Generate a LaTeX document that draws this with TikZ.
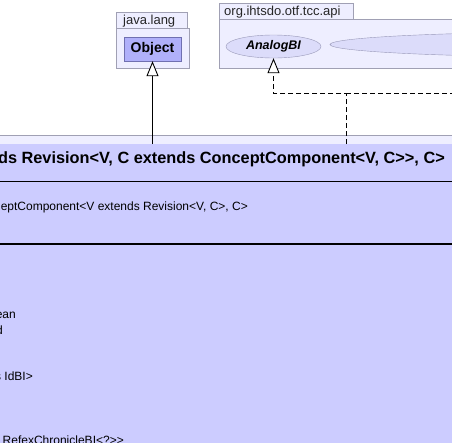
\documentclass[tikz,border=0pt]{standalone}
\usepackage{fontspec}
\setmainfont{Liberation Sans}
\usepackage{xcolor}
\usetikzlibrary{arrows.meta, positioning, calc, shapes.geometric}

\definecolor{pkgfill}{HTML}{EEEEFF}
\definecolor{pkgline}{HTML}{A0A0B4}
\definecolor{clsfill}{HTML}{CCCCFF}
\definecolor{objfill}{HTML}{B0B0FA}
\definecolor{objline}{HTML}{7070B0}
\definecolor{ovalfill}{HTML}{DCDCFA}
\definecolor{ovalline}{HTML}{9898B8}

\begin{document}
\begin{tikzpicture}[
    x=1pt, y=-1pt,
    pkgbox/.style={draw=pkgline, fill=pkgfill, inner sep=0pt, anchor=north west},
    pkglabel/.style={font=\fontsize{13}{15}\selectfont, text=black!85, inner sep=0pt, anchor=base west},
    member/.style={font=\fontsize{12}{14}\selectfont, inner sep=0pt, anchor=base east},
    inherit/.style={-{Triangle[open, length=15pt, width=12pt, fill=white]}, line width=0.9pt},
    realize/.style={inherit, dash pattern=on 5pt off 3pt}
]
    \useasboundingbox (0,0) rectangle (452,442);
    \clip (0,0) rectangle (452,442);

    % packages on top
    \node[pkgbox, minimum width=71pt, minimum height=16pt] (langtab) at (116,12) {};
    \node[pkgbox, minimum width=73pt, minimum height=40pt] (langpkg) at (langtab.south west) {};
    \node[pkglabel] (langname) at (123,24) {java.lang};
    \node[draw=objline, fill=objfill, minimum width=57pt, minimum height=24pt, inner sep=0pt,
          font=\bfseries\fontsize{14}{16}\selectfont] (object) at (152.5,49) {Object};

    \node[pkgbox, minimum width=134pt, minimum height=16pt] (apitab) at (219,3) {};
    \node[pkgbox, minimum width=300pt, minimum height=49pt] (apipkg) at (apitab.south west) {};
    \node[pkglabel] (apiname) at (224,15) {org.ihtsdo.otf.tcc.api};
    \node[ellipse, draw=ovalline, fill=ovalfill, minimum width=95pt, minimum height=23pt, inner sep=0pt,
          font=\bfseries\itshape\fontsize{12.5}{15}\selectfont] (analog) at (273.5,46.5) {AnalogBI};
    \node[ellipse, draw=ovalline, fill=ovalfill, minimum width=500pt, minimum height=25pt, inner sep=0pt] (apinext) at (580,44.5) {};

    % class and its package
    \node[pkgbox, minimum width=560pt, minimum height=320pt] (clspkg) at (-50,135) {};
    \node[fill=clsfill, anchor=north west, minimum width=540pt, minimum height=310pt, inner sep=0pt] (cls) at (-40,144) {};
    \draw[line width=1pt] (-40,181) -- (500,181);
    \draw[line width=2pt] (-40,244) -- (500,244);

    \node[anchor=base east, inner sep=0pt, font=\bfseries\fontsize{16.3}{18}\selectfont] (clsname) at (445,163)
        {ds Revision<V, C extends ConceptComponent<V, C>{}>, C>};
    \node[member] (typeparam) at (248,210) {eptComponent<V extends Revision<V, C>, C>};
    \node[member] (attr1) at (16,318) {ean};
    \node[member] (attr2) at (3,334) {d};
    \node[member] (attr3) at (33,380) {s IdBI>};
    \node[member] (attr4) at (124,444) {RefexChronicleBI<?>{}>};

    % connectors
    \coordinate (fork) at (346,93);
    \coordinate (offright) at (470,93);
    \draw[inherit] (object |- cls.north) -- (object.south);
    \draw[realize] (fork |- cls.north) -- (fork) -| (analog.south);
    \draw[line width=0.9pt, dash pattern=on 5pt off 3pt] (fork) -- (offright);
\end{tikzpicture}
\end{document}
